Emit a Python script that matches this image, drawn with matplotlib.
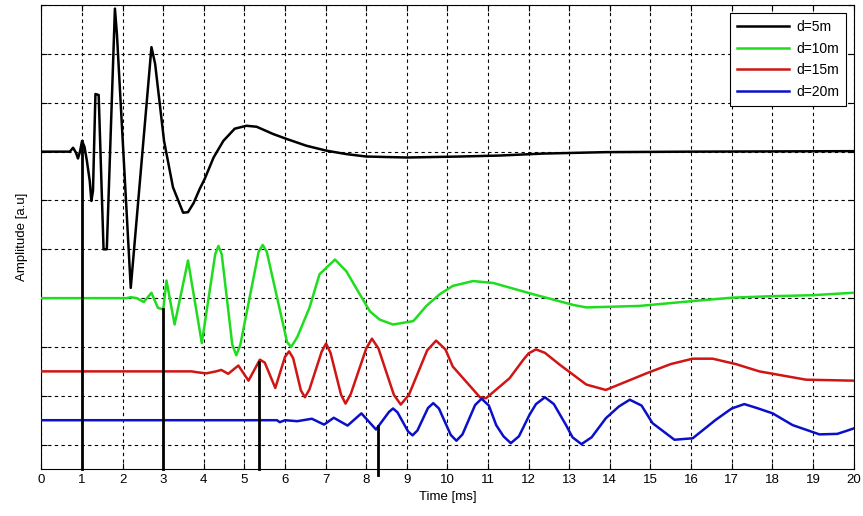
import numpy as np
import matplotlib.pyplot as plt

plt.rcParams['font.family'] = ['Liberation Sans', 'DejaVu Sans']

# received waveforms at four distances, each offset on its own baseline
t_5m = [0, 0.5, 0.7, 0.78, 0.85, 0.9, 0.95, 1.0, 1.06, 1.12, 1.19, 1.23, 1.27, 1.33, 1.41,
        1.53, 1.61, 1.81, 1.86, 2.2, 2.71, 2.8, 3.02, 3.24, 3.49, 3.61, 3.75, 3.9, 4.02,
        4.24, 4.48, 4.76, 5.05, 5.3, 5.71, 6.04, 6.53, 7.02, 7.51, 8.0, 9.0, 10.3, 11.28,
        12.34, 13.9, 16.0, 20.0]
a_5m = [6.0, 6.0, 6.0, 6.08, 5.98, 5.86, 6.0, 6.22, 6.1, 5.81, 5.4, 4.99, 5.2, 7.18, 7.16,
        4.0, 4.0, 8.93, 8.4, 3.21, 8.14, 7.8, 6.22, 5.27, 4.75, 4.76, 4.95, 5.24, 5.44,
        5.88, 6.22, 6.47, 6.53, 6.51, 6.36, 6.26, 6.12, 6.02, 5.95, 5.9, 5.88, 5.9, 5.92,
        5.96, 5.99, 6.0, 6.01]

t_10m = [0, 2.1, 2.2, 2.35, 2.52, 2.71, 2.87, 3.0, 3.08, 3.28, 3.61, 3.95, 4.28, 4.36, 4.44,
         4.7, 4.8, 4.9, 5.35, 5.45, 5.55, 6.05, 6.15, 6.3, 6.6, 6.85, 7.23, 7.51, 7.84, 8.09,
         8.33, 8.66, 9.16, 9.48, 9.81, 10.13, 10.63, 11.13, 12.11, 13.1, 13.42, 14.72, 16.04,
         17.02, 18.0, 18.98, 20.0]
a_10m = [3.0, 3.0, 3.02, 3.0, 2.92, 3.11, 2.8, 2.77, 3.36, 2.46, 3.77, 2.08, 3.9, 4.07, 3.9,
         2.05, 1.83, 2.05, 3.95, 4.09, 3.95, 2.1, 2.0, 2.2, 2.8, 3.49, 3.79, 3.55, 3.08, 2.73,
         2.56, 2.46, 2.53, 2.84, 3.08, 3.25, 3.35, 3.31, 3.08, 2.86, 2.81, 2.84, 2.94,
         3.01, 3.04, 3.06, 3.11]

t_15m = [0, 3.7, 3.85, 4.06, 4.3, 4.43, 4.6, 4.85, 5.1, 5.38, 5.5, 5.76, 6.0, 6.1, 6.2,
         6.39, 6.49, 6.6, 6.9, 7.01, 7.12, 7.38, 7.49, 7.62, 8.0, 8.14, 8.3, 8.68, 8.85, 9.05,
         9.5, 9.72, 9.95, 10.13, 10.8, 10.95, 11.53, 11.87, 12.0, 12.18, 12.4, 12.76, 13.42,
         13.9, 14.9, 15.5, 16.04, 16.53, 17.1, 17.68, 18.83, 20.0]
a_15m = [1.5, 1.5, 1.48, 1.46, 1.5, 1.53, 1.45, 1.62, 1.31, 1.74, 1.68, 1.16, 1.8, 1.91, 1.77,
         1.11, 0.97, 1.13, 1.9, 2.07, 1.88, 1.02, 0.84, 1.04, 1.97, 2.17, 1.97, 1.02, 0.82, 1.02,
         1.93, 2.13, 1.95, 1.6, 0.97, 0.95, 1.36, 1.74, 1.87, 1.95, 1.88, 1.64, 1.23,
         1.12, 1.46, 1.65, 1.76, 1.76, 1.65, 1.5, 1.33, 1.31]

t_20m = [0, 5.8, 5.87, 6.0, 6.3, 6.66, 6.96, 7.2, 7.54, 7.88, 8.24, 8.56, 8.66, 8.77, 9.03,
         9.14, 9.26, 9.52, 9.65, 9.79, 10.08, 10.22, 10.37, 10.68, 10.84, 11.02, 11.2, 11.38,
         11.56, 11.76, 12.02, 12.18, 12.4, 12.62, 12.92, 13.08, 13.3, 13.55, 13.9, 14.22, 14.49,
         14.78, 15.05, 15.59, 16.04, 16.61, 17.0, 17.31, 17.62, 18.01, 18.5, 19.16, 19.6, 19.82,
         20.0]
a_20m = [0.5, 0.5, 0.46, 0.5, 0.48, 0.53, 0.41, 0.55, 0.39, 0.64, 0.31, 0.67, 0.74, 0.66, 0.27,
         0.19, 0.29, 0.75, 0.85, 0.74, 0.2, 0.08, 0.21, 0.81, 0.94, 0.8, 0.4, 0.17,
         0.03, 0.17, 0.61, 0.83, 0.97, 0.83, 0.4, 0.15, 0.01, 0.15, 0.54, 0.78, 0.92,
         0.8, 0.44, 0.1, 0.13, 0.51, 0.74, 0.83, 0.75, 0.64, 0.4, 0.21, 0.22, 0.28,
         0.33]

labels = ['d=5m', 'd=10m', 'd=15m', 'd=20m']
colors = ['black', '#1fdc1f', '#d01515', '#0a10c8']

# first-arrival picks (ms) for each trace
arrivals = [1.0, 3.0, 5.35, 8.3]
pick_bottom = [-0.5, -0.5, -0.5, -0.62]

fig = plt.figure(figsize=(8.63, 5.16), dpi=100)
ax = fig.add_axes([0.048, 0.091, 0.941, 0.899])

traces = [(t_5m, a_5m), (t_10m, a_10m), (t_15m, a_15m), (t_20m, a_20m)]
for (t, a), lab, c in zip(traces, labels, colors):
    ax.plot(t, a, color=c, lw=1.8, label=lab, zorder=3)

for (t, a), ta, yb in zip(traces, arrivals, pick_bottom):
    top = np.interp(ta, t, a)
    ax.plot([ta, ta], [yb, top], color='black', lw=2.0, zorder=4, clip_on=False)

ax.set_xlim(0, 20)
ax.set_ylim(-0.5, 9)
ax.set_xticks(range(0, 21))
ax.set_yticks(range(0, 10))
ax.set_yticklabels([])
ax.grid(True, color='black', linestyle=(0, (3, 3)), lw=0.8)
ax.tick_params(direction='in', top=True, right=True, labelsize=9.5, length=4)
for s in ax.spines.values():
    s.set_linewidth(0.8)

ax.set_xlabel('Time [ms]', fontsize=9.5, labelpad=4)
ax.set_ylabel('Amplitude [a.u]', fontsize=9.5, labelpad=6)

leg = ax.legend(loc='upper right', bbox_to_anchor=(0.991, 0.983), borderaxespad=0,
                fontsize=10, fancybox=False, framealpha=1, edgecolor='black',
                handlelength=3.8, handletextpad=0.5, borderpad=0.5, labelspacing=0.55)
leg.get_frame().set_linewidth(0.8)

plt.savefig('out.png', dpi=100)
